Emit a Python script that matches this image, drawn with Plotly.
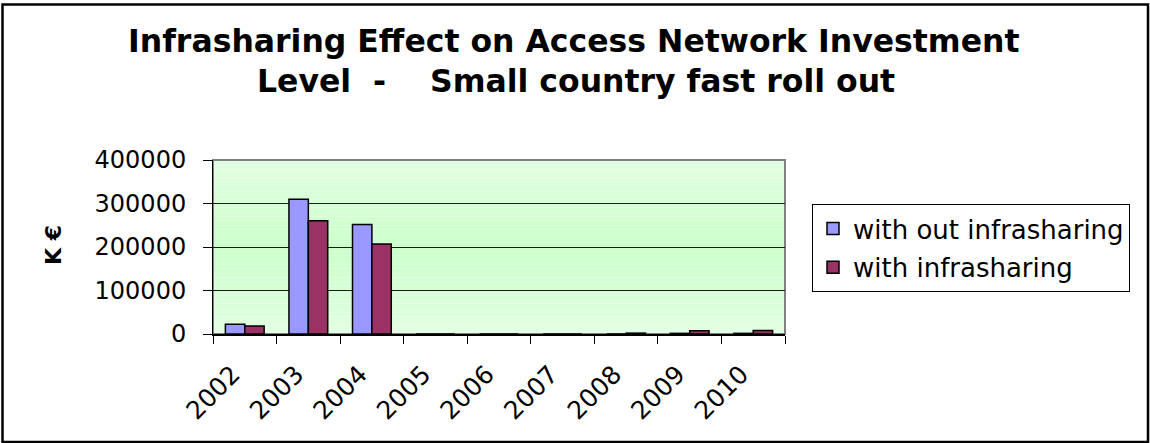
import plotly.graph_objects as go

years = ["2002", "2003", "2004", "2005", "2006", "2007", "2008", "2009", "2010"]
without_infrasharing = [22300, 310000, 252000, 0, 0, 0, 0, 1500, 1500]
with_infrasharing = [18400, 260500, 207000, 0, 0, 0, 2000, 7500, 8000]

W, H = 1150, 443
L, R, T, B = 213, 365, 160, 109
PW, PH = W - L - R, H - T - B

def px_x(px):
    return (px - L) / PW

def px_y(py):
    return (H - B - py) / PH

FONT = "DejaVu Sans"

fig = go.Figure()
fig.add_trace(go.Bar(
    x=years, y=without_infrasharing, name="with out infrasharing",
    marker=dict(color="#9999FF", line=dict(color="black", width=1.5)),
    legendgroup="a",
))
fig.add_trace(go.Bar(
    x=years, y=with_infrasharing, name="with infrasharing",
    marker=dict(color="#993366", line=dict(color="black", width=1.5)),
    legendgroup="b",
))

shapes = []
# gradient background bands
n = 40
top = (226, 255, 226)
mid = (204, 255, 204)
for i in range(n):
    t = (i + 0.5) / n
    f = 1 - abs(t - 0.5) * 2
    c = tuple(round(top[k] + (mid[k] - top[k]) * f) for k in range(3))
    shapes.append(dict(type="rect", xref="paper", yref="paper",
                       x0=0, x1=1, y0=i / n, y1=(i + 1) / n,
                       fillcolor="rgb(%d,%d,%d)" % c, line=dict(width=0), layer="below"))
shapes.append(dict(type="rect", xref="paper", yref="paper", x0=0, x1=1, y0=0, y1=1,
                   line=dict(color="#808080", width=2), layer="below"))
# outer chart border
shapes.append(dict(type="rect", xref="paper", yref="paper",
                   x0=px_x(2.5), x1=px_x(1148), y0=px_y(442), y1=px_y(4.5),
                   line=dict(color="black", width=2.5)))

annotations = [
    dict(text="Infrasharing Effect on Access Network Investment", x=px_x(574), y=px_y(41),
         xref="paper", yref="paper", showarrow=False, xanchor="center", yanchor="middle",
         font=dict(family=FONT, size=31.5, color="black", weight="bold")),
    dict(text="Level\u00a0\u00a0-\u00a0\u00a0\u00a0\u00a0Small country fast roll out", x=px_x(576), y=px_y(81),
         xref="paper", yref="paper", showarrow=False, xanchor="center", yanchor="middle",
         font=dict(family=FONT, size=31.5, color="black", weight="bold")),
    dict(text="K €", x=px_x(53), y=px_y(245), xref="paper", yref="paper", showarrow=False,
         textangle=-90, xanchor="center", yanchor="middle",
         font=dict(family=FONT, size=22, color="black", weight="bold")),
]

fig.update_layout(
    width=W, height=H,
    margin=dict(l=L, r=R, t=T, b=B, pad=0),
    paper_bgcolor="white", plot_bgcolor="rgba(0,0,0,0)",
    barmode="group", bargap=0.39, bargroupgap=0.0,
    shapes=shapes, annotations=annotations,
    font=dict(family=FONT, color="black"),
    legend=dict(x=px_x(812), y=px_y(204), xanchor="left", yanchor="top",
                bordercolor="black", borderwidth=1, bgcolor="white",
                font=dict(family=FONT, size=26, color="black"),
                traceorder="grouped", tracegroupgap=2),
    xaxis=dict(type="category", tickangle=-45, tickson="boundaries", ticks="outside",
               ticklen=8, tickcolor="black", showline=True, linecolor="black", linewidth=1.5,
               showgrid=False, tickfont=dict(family=FONT, size=25, color="black"),
               ticklabelstandoff=14, ticklabelshift=-12),
    yaxis=dict(range=[0, 400000], dtick=100000, tickformat="d", ticks="outside", ticklen=9,
               tickcolor="black", showline=True, linecolor="black", linewidth=1,
               showgrid=True, gridcolor="#1a1a1a", gridwidth=1, zeroline=False,
               tickfont=dict(family=FONT, size=24, color="black"), ticklabelstandoff=12),
)

fig.write_html("out.html")
